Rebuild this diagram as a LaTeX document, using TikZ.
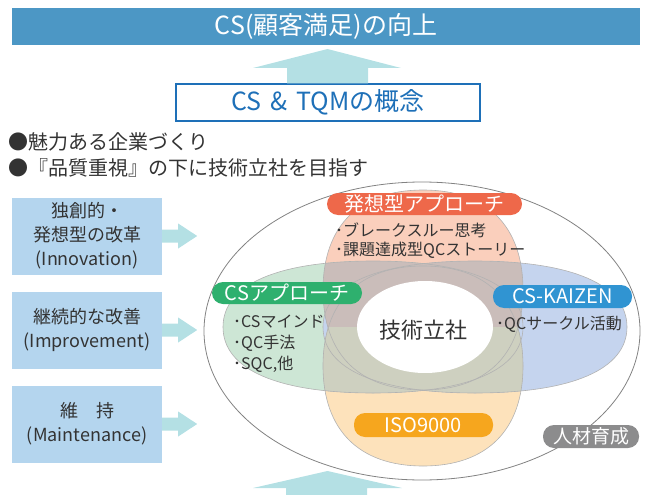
\documentclass[tikz,border=0pt]{standalone}
\usepackage{fontspec}
\setmainfont{Noto Sans CJK JP}
\definecolor{bannerblue}{RGB}{76,151,197}
\definecolor{arrowteal}{RGB}{180,224,228}
\definecolor{boxblue}{RGB}{30,112,184}
\definecolor{leftblue}{RGB}{180,213,238}
\definecolor{txt}{RGB}{51,51,51}
\definecolor{ringgray}{RGB}{130,130,130}
\definecolor{shapegray}{RGB}{178,178,178}
\definecolor{ideaorange}{RGB}{238,104,74}
\definecolor{ideafill}{RGB}{250,207,188}
\definecolor{csgreen}{RGB}{46,176,110}
\definecolor{csfill}{RGB}{205,230,213}
\definecolor{kzblue}{RGB}{48,148,210}
\definecolor{kzfill}{RGB}{197,212,238}
\definecolor{isoyellow}{RGB}{246,166,30}
\definecolor{isofill}{RGB}{253,226,187}
\definecolor{hrgray}{RGB}{140,140,141}
\definecolor{mixtop}{RGB}{202,189,186}
\definecolor{mixbottom}{RGB}{206,208,192}
% fuller-than-ellipse closed curve: centre (#1,#2), half axes #3, #4
\newcommand\fullshape[4]{%
  ({#1+#3},#2) .. controls ({#1+#3},{#2+0.64*#4}) and ({#1+0.64*#3},{#2+#4}) .. (#1,{#2+#4})
  .. controls ({#1-0.64*#3},{#2+#4}) and ({#1-#3},{#2+0.64*#4}) .. ({#1-#3},#2)
  .. controls ({#1-#3},{#2-0.64*#4}) and ({#1-0.64*#3},{#2-#4}) .. (#1,{#2-#4})
  .. controls ({#1+0.64*#3},{#2-#4}) and ({#1+#3},{#2-0.64*#4}) .. ({#1+#3},#2) -- cycle}
\def\shO{\fullshape{423}{290}{100}{100}}
\def\shY{\fullshape{423}{366}{100}{100}}
\def\shG{\fullshape{373}{327}{150}{66}}
\def\shB{\fullshape{475}{327}{152}{66}}
\tikzset{
  leftbox/.style={fill=leftblue, minimum width=150pt, minimum height=77pt, inner sep=0pt,
    align=center, text=txt, font=\fontsize{18}{24}\selectfont},
  pill/.style={fill=#1, rounded corners=11pt, inner sep=0pt, text=white,
    font=\fontsize{20}{24}\selectfont},
  itemtext/.style={anchor=west, inner sep=0pt, text=txt, font=\fontsize{16}{19}\selectfont},
  bullettext/.style={anchor=west, inner sep=0pt, text=txt, font=\fontsize{20}{24}\selectfont},
  bigarrow/.style={fill=arrowteal},
}
\begin{document}
\begin{tikzpicture}[x=1pt,y=-1pt]
\useasboundingbox (0,0) rectangle (645,495);

% top banner and concept box
\node[fill=bannerblue, minimum width=628pt, minimum height=37pt, inner sep=0pt,
  text=white, font=\fontsize{25}{30}\selectfont] (goal) at (326,26.5) {CS(顧客満足)の向上};
\node[draw=boxblue, line width=1.5pt, minimum width=304pt, minimum height=37pt, inner sep=0pt,
  text=boxblue, font=\fontsize{25}{30}\selectfont] (concept) at (328,102.5)
  {CS\hspace{0.35em}\&\hspace{0.35em}TQMの概念};

% up arrow between box and banner
\coordinate (ta) at (327.5,49);
\fill[bigarrow] (concept.north -| 287,0) -- (287,68) -- (253,68) -- (ta) -- (401,68) -- (368,68)
  -- (concept.north -| 368,0) -- cycle;

% bullets
\node[bullettext] (b1) at (8,142) {●魅力ある企業づくり};
\node[bullettext] (b2) at (8,168) {●『品質重視』の下に技術立社を目指す};

% left boxes
\node[leftbox] (inn) at (87,236) {独創的・\\発想型の改革\\(Innovation)};
\node[leftbox] (imp) at (87,330) {継続的な改善\\(Improvement)};
\node[leftbox] (mnt) at (87,424) {維　持\\(Maintenance)};
\foreach \n in {inn,imp,mnt}{
  \fill[bigarrow] (\n.east) ++(0,-6.5) -- ++(16,0) -- ++(0,-6) -- ++(19,12.5) -- ++(-19,12.5)
    -- ++(0,-6) -- ++(-16,0) -- cycle;
}

% outer ring
\draw[ringgray, line width=0.8pt] (422,331) ellipse [x radius=218, y radius=149];

% four overlapping shapes
\fill[ideafill] \shO;
\fill[isofill] \shY;
\fill[csfill] \shG;
\fill[kzfill] \shB;
\begin{scope}
  \clip \shY;
  \fill[mixbottom] \shG;
  \fill[mixbottom] \shB;
\end{scope}
\begin{scope}
  \clip \shO;
  \fill[mixtop] \shG;
  \fill[mixtop] \shB;
\end{scope}
\begin{scope}
  \clip \shY;
  \clip (0,327) rectangle (645,495);
  \fill[mixbottom] \shG;
  \fill[mixbottom] \shB;
\end{scope}
\draw[shapegray, line width=0.6pt] \shO;
\draw[shapegray, line width=0.6pt] \shY;
\draw[shapegray, line width=0.6pt] \shG;
\draw[shapegray, line width=0.6pt] \shB;

% center
\fill[white] (425,327) ellipse [x radius=68, y radius=46];
\node[text=txt, font=\fontsize{22}{26}\selectfont, inner sep=0pt] (core) at (423,330) {技術立社};

% labels
\node[pill=ideaorange, minimum width=195pt, minimum height=22pt] (idea) at (424.5,204) {発想型アプローチ};
\node[pill=csgreen, minimum width=150pt, minimum height=22pt] (csap) at (287,293) {CSアプローチ};
\node[pill=kzblue, minimum width=139pt, minimum height=23pt] (kz) at (562.5,296.5) {CS-KAIZEN};
\node[pill=isoyellow, minimum width=139pt, minimum height=24pt] (iso) at (423.5,425) {ISO9000};
\node[pill=hrgray, minimum width=96pt, minimum height=23pt, font=\fontsize{19}{23}\selectfont] (hr) at (591,436.5) {人材育成};

% item texts
\node[itemtext] (i1) at (335,230) {･ブレークスルー思考};
\node[itemtext] (i2) at (335,250) {･課題達成型QCストーリー};
\node[itemtext] (g1) at (233,322) {･CSマインド};
\node[itemtext] (g2) at (233,343) {･QC手法};
\node[itemtext] (g3) at (233,364) {･SQC,他};
\node[itemtext] (k1) at (496,324) {･QCサークル活動};

% bottom arrow
\coordinate (ba) at (327.5,471);
\fill[bigarrow] (286,495) -- (286,488) -- (253,488) -- (ba) -- (402,488) -- (367,488) -- (367,495) -- cycle;
\end{tikzpicture}
\end{document}
